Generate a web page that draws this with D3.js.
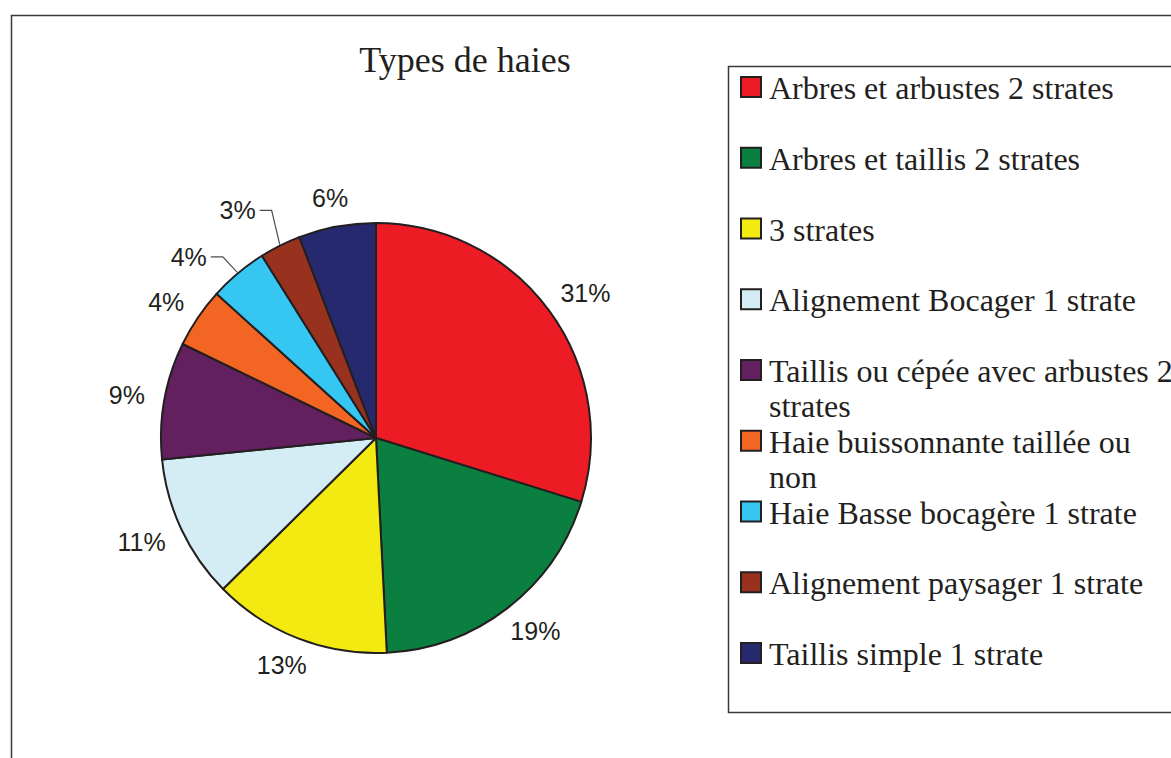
<!DOCTYPE html>
<html>
<head>
<meta charset="utf-8">
<script src="https://cdn.jsdelivr.net/npm/d3@7/dist/d3.min.js"></script>
<style>
  body { margin: 0; background: #fff; }
  svg { display: block; }
</style>
</head>
<body>
<svg id="chart" width="1171" height="758"></svg>
<script>
'use strict';

// categories, in drawing order (clockwise from 12 o'clock)
const categories = [
    'Arbres et arbustes 2 strates',
    'Arbres et taillis 2 strates',
    '3 strates',
    'Alignement Bocager 1 strate',
    'Taillis ou cépée avec arbustes 2 strates',
    'Haie buissonnante taillée ou non',
    'Haie Basse bocagère 1 strate',
    'Alignement paysager 1 strate',
    'Taillis simple 1 strate'
];
// slice shares (%)
const shares = [29.8, 19.4, 13.4, 10.8, 8.8, 4.5, 4.4, 3.1, 5.8];
// percentages printed next to the slices
const pctLabels = ['31%', '19%', '13%', '11%', '9%', '4%', '4%', '3%', '6%'];
const colors = ['#ed1c24', '#0b7f3f', '#f3ea12', '#d4edf4', '#63205f',
    '#f26522', '#36c6f2', '#98321f', '#27296f'];

const svg = d3.select('#chart');
const width = 1171, height = 758;
const cx = 376, cy = 438, radius = 215;
const ink = '#231f20';

// outer frame (only top and left edges visible)
svg.append('path')
    .attr('d', `M11.5,${height} V15.5 H${width}`)
    .attr('fill', 'none')
    .attr('stroke', '#3a3a3a')
    .attr('stroke-width', 1.5);

// title
svg.append('text')
    .attr('x', 465)
    .attr('y', 72)
    .attr('text-anchor', 'middle')
    .style('font-family', '"Liberation Serif", "Times New Roman", serif')
    .style('font-size', '36px')
    .attr('fill', ink)
    .text('Types de haies');

// pie
const pie = d3.pie().sort(null).value(d => d);
const arcs = pie(shares);
const arc = d3.arc().innerRadius(0).outerRadius(radius);

const g = svg.append('g').attr('transform', `translate(${cx},${cy})`);

g.selectAll('path.slice')
    .data(arcs)
    .enter()
    .append('path')
    .attr('class', 'slice')
    .attr('d', arc)
    .attr('fill', (d, i) => colors[i])
    .attr('stroke', ink)
    .attr('stroke-width', 2)
    .attr('stroke-linejoin', 'round');

// data labels: centred just outside the rim, pushed out by half their size.
// the two thin slices get moved a bit and a leader line, like the original
const labelMoves = {6: {da: -5, dr: 12}, 7: {da: -4, dr: 20}};
const gap = 20;

arcs.forEach((d, i) => {
    const mid = (d.startAngle + d.endAngle) / 2;
    const mv = labelMoves[i] || {da: 0, dr: 0};
    const a = mid + mv.da * Math.PI / 180;
    const ux = Math.sin(a), uy = -Math.cos(a);

    const t = g.append('text')
        .attr('text-anchor', 'middle')
        .style('font-family', '"Liberation Sans", Arial, sans-serif')
        .style('font-size', '25px')
        .attr('fill', ink)
        .text(pctLabels[i]);
    const w = t.node().getComputedTextLength();
    const h = 18;
    const r = radius + gap + mv.dr;
    const lx = r * ux + (w / 2) * ux;
    const ly = r * uy + (h / 2) * uy;
    t.attr('x', lx).attr('y', ly + h / 2);

    if (labelMoves[i]) {
        const rimX = (radius + 1) * Math.sin(mid);
        const rimY = -(radius + 1) * Math.cos(mid);
        const sx = lx + w / 2 + 4;
        const ex = sx + 12;
        g.append('polyline')
            .attr('points', [[sx, ly], [ex, ly], [rimX, rimY]].map(p => p.join(',')).join(' '))
            .attr('fill', 'none')
            .attr('stroke', '#4d4d4d')
            .attr('stroke-width', 1.2);
    }
});

// legend
const legX = 728, legTop = 66, legBottom = 712;
svg.append('rect')
    .attr('x', legX + 0.5)
    .attr('y', legTop + 0.5)
    .attr('width', width - legX + 10)
    .attr('height', legBottom - legTop)
    .attr('fill', '#fff')
    .attr('stroke', '#3a3a3a')
    .attr('stroke-width', 1.5);

const rowStep = 70.75, firstBase = 99, lineH = 35, wrapW = 410;
const legend = svg.append('g');

categories.forEach((name, i) => {
    const base = firstBase + i * rowStep;
    legend.append('rect')
        .attr('x', 741)
        .attr('y', base - 22)
        .attr('width', 20)
        .attr('height', 20)
        .attr('fill', colors[i])
        .attr('stroke', ink)
        .attr('stroke-width', 2);

    const t = legend.append('text')
        .attr('x', 769)
        .attr('y', base)
        .style('font-family', '"Liberation Serif", "Times New Roman", serif')
        .style('font-size', '32px')
        .attr('fill', ink);

    // simple word wrap
    const words = name.split(' ');
    let line = [];
    let tspan = t.append('tspan').attr('x', 769).attr('y', base);
    let lineNo = 0;
    words.forEach(word => {
        line.push(word);
        tspan.text(line.join(' '));
        if (tspan.node().getComputedTextLength() > wrapW && line.length > 1) {
            line.pop();
            tspan.text(line.join(' '));
            line = [word];
            lineNo++;
            tspan = t.append('tspan').attr('x', 769).attr('y', base + lineNo * lineH).text(word);
        }
    });
});
</script>
</body>
</html>
